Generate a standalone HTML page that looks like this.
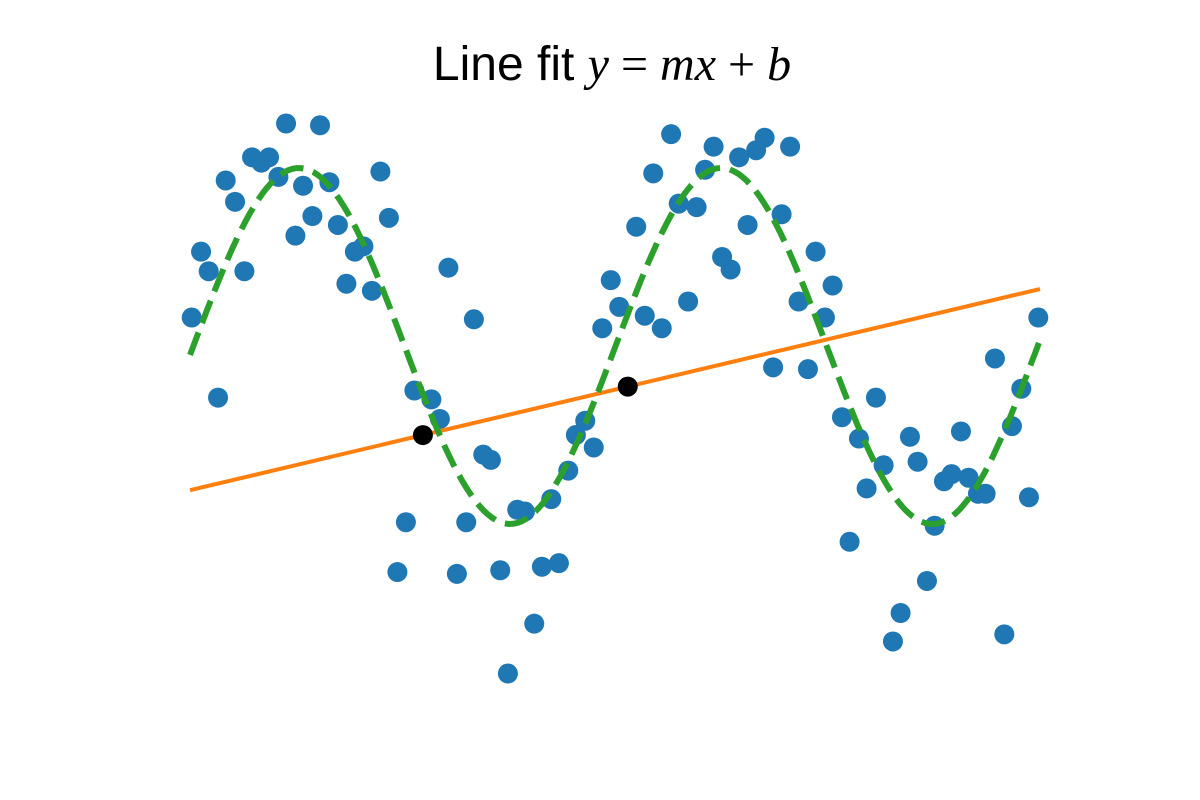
<!DOCTYPE html>
<html><head><meta charset="utf-8"><style>
html,body{margin:0;padding:0;background:#fff;width:1200px;height:800px;overflow:hidden}
svg{display:block}
</style></head><body>
<svg id="chart" width="1200" height="800">
<text x="612" y="80" text-anchor="middle" font-size="48"><tspan font-family="Liberation Sans, DejaVu Sans, sans-serif">Line fit </tspan><tspan font-family="Liberation Serif, DejaVu Serif, serif" font-style="italic">y</tspan><tspan font-family="Liberation Serif, serif"> = </tspan><tspan font-family="Liberation Serif, serif" font-style="italic">mx</tspan><tspan font-family="Liberation Serif, serif"> + </tspan><tspan font-family="Liberation Serif, serif" font-style="italic">b</tspan></text>
</svg>
<script>
const xs=[0.02,0.13,0.22,0.33,0.42,0.53,0.64,0.73,0.84,0.93,1.04,1.13,1.24,1.33,1.44,1.53,1.64,1.74,1.84,1.94,2.04,2.14,2.24,2.34,2.44,2.54,2.64,2.84,2.94,3.04,3.14,3.25,3.34,3.45,3.54,3.65,3.74,3.85,3.94,4.05,4.14,4.25,4.34,4.45,4.54,4.65,4.75,4.85,4.95,5.05,5.25,5.35,5.45,5.55,5.66,5.75,5.86,5.96,6.06,6.16,6.26,6.36,6.46,6.56,6.66,6.76,6.86,6.96,7.06,7.16,7.27,7.36,7.47,7.56,7.67,7.76,7.87,7.96,8.07,8.16,8.27,8.36,8.47,8.56,8.67,8.76,8.87,8.96,9.07,9.16,9.27,9.36,9.47,9.58,9.67,9.78,9.87,9.98];
const ys=[0.16,0.53,0.42,-0.29,0.93,0.81,0.42,1.06,1.03,1.06,0.95,1.25,0.62,0.90,0.73,1.24,0.92,0.68,0.35,0.53,0.56,0.31,0.98,0.72,-1.27,-0.99,-0.25,-0.30,-0.41,0.44,-1.28,-0.99,0.15,-0.61,-0.64,-1.26,-1.84,-0.92,-0.93,-1.56,-1.24,-0.86,-1.22,-0.70,-0.50,-0.42,-0.57,0.10,0.37,0.22,0.67,0.17,0.97,0.10,1.19,0.80,0.25,0.78,0.99,1.12,0.50,0.43,1.06,0.68,1.10,1.17,-0.12,0.74,1.12,0.25,-0.13,0.53,0.16,0.34,-0.40,-1.10,-0.52,-0.80,-0.29,-0.67,-1.66,-1.50,-0.51,-0.65,-1.32,-1.01,-0.76,-0.72,-0.48,-0.74,-0.83,-0.83,-0.07,-1.62,-0.45,-0.24,-0.85,0.16];
const lineFit=[0.113,-0.81]; // slope, intercept
const sineFit=[1.0,1.265,-0.05,0.0]; // amplitude, frequency, phase, offset
const markX=[2.74,5.15];
const xDomain=[0,10];

const NS="http://www.w3.org/2000/svg";
const svg=document.getElementById('chart');
const X=v=>190+(v-xDomain[0])/(xDomain[1]-xDomain[0])*850;
const Y=v=>346-v*178;
function mk(t,a){const e=document.createElementNS(NS,t);for(const k in a)e.setAttribute(k,a[k]);svg.appendChild(e);return e;}

xs.forEach((x,i)=>{
  const c=mk('circle',{cx:X(x),cy:Y(ys[i]),r:10,fill:'#1f77b4'});
  
  
});
const ln=mk('line',{x1:X(xDomain[0]),y1:Y(lineFit[0]*xDomain[0]+lineFit[1]),x2:X(xDomain[1]),y2:Y(lineFit[0]*xDomain[1]+lineFit[1]),stroke:'#ff7f0e','stroke-width':4});


let d='';
for(let i=0;i<=200;i++){const x=xDomain[0]+(xDomain[1]-xDomain[0])*i/200;const y=sineFit[0]*Math.sin(sineFit[1]*x+sineFit[2])+sineFit[3];d+=(i?'L':'M')+X(x).toFixed(1)+','+Y(y).toFixed(1);}
const sp=mk('path',{d:d,fill:'none',stroke:'#2ca02c','stroke-width':6,'stroke-dasharray':'24,10'});


markX.forEach(x=>{
  const c=mk('circle',{cx:X(x),cy:Y(lineFit[0]*x+lineFit[1]),r:10,fill:'#000'});
  
  
});
</script>
</body></html>
